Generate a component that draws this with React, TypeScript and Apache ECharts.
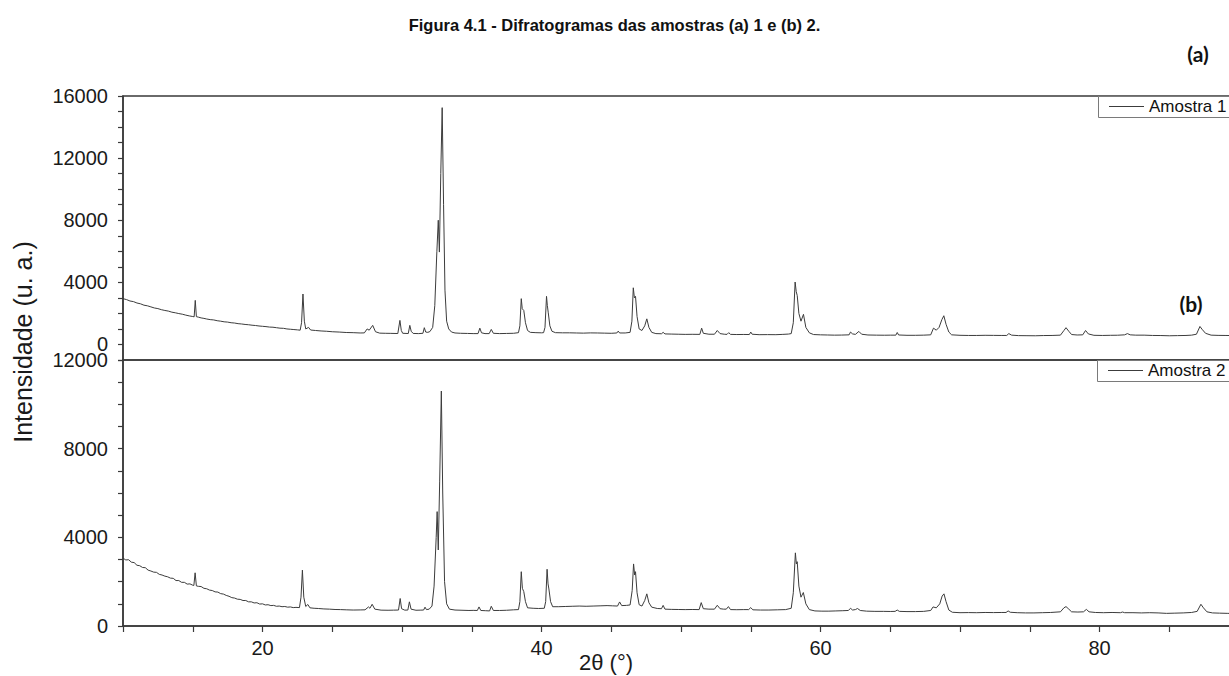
import React, { useEffect, useRef } from "react";
import * as echarts from "echarts";

const TITLE = "Figura 4.1 - Difratogramas das amostras (a) 1 e (b) 2.";
const SERIES_NAMES = ["Amostra 1", "Amostra 2"];
const X_LABELS = [20, 40, 60, 80];
const TOP_Y_LABELS = [0, 4000, 8000, 12000, 16000];
const BOTTOM_Y_LABELS = [0, 4000, 8000, 12000];

// Amostra 1: [2θ, intensidade]
const amostra1: number[][] = [
  [10.0, 2950], [10.25, 2890], [10.5, 2800], [10.75, 2760], [11.0, 2670], [11.25, 2620], [11.5, 2530],
  [11.75, 2490], [12.0, 2420], [12.25, 2350], [12.5, 2310], [12.75, 2240], [13.0, 2190], [13.25, 2150],
  [13.5, 2080], [13.75, 2040], [14.0, 1990], [14.25, 1950], [14.5, 1890], [14.75, 1840], [15.0, 1800],
  [15.1, 1780], [15.18, 2840], [15.26, 1790], [15.4, 1760], [15.6, 1710], [15.8, 1680], [16.0, 1640],
  [16.25, 1600], [16.5, 1580], [16.75, 1530], [17.0, 1500], [17.25, 1460], [17.5, 1440], [17.75, 1400],
  [18.0, 1380], [18.25, 1340], [18.5, 1320], [18.75, 1290], [19.0, 1270], [19.25, 1240], [19.5, 1220],
  [19.75, 1190], [20.0, 1170], [20.25, 1150], [20.5, 1120], [20.75, 1110], [21.0, 1080], [21.25, 1050],
  [21.5, 1040], [21.75, 1000], [22.0, 980], [22.25, 960], [22.5, 940], [22.7, 920],
  [22.8, 1400], [22.9, 3250], [23.0, 1500], [23.1, 1000], [23.3, 1100], [23.45, 930],
  [23.8, 900], [24.2, 870], [24.6, 850], [25.0, 820], [25.5, 800], [26.0, 770], [26.5, 760], [27.0, 740],
  [27.3, 745], [27.5, 1000], [27.65, 920], [27.9, 1230], [28.1, 820], [28.4, 730], [28.8, 720],
  [29.2, 715], [29.7, 705], [29.85, 1550], [29.95, 900], [30.05, 720], [30.45, 705], [30.56, 1230],
  [30.66, 850], [30.8, 710], [31.2, 700], [31.5, 720], [31.6, 1080], [31.7, 800], [31.85, 780],
  [32.0, 830], [32.2, 1100], [32.35, 2500], [32.5, 6000], [32.6, 8000], [32.68, 5950], [32.78, 11000],
  [32.88, 15250], [32.98, 9000], [33.08, 3500], [33.2, 1500], [33.35, 1000], [33.55, 800], [33.8, 740],
  [34.2, 720], [34.7, 710], [35.1, 700], [35.45, 700], [35.58, 1050], [35.7, 750], [35.95, 700],
  [36.25, 700], [36.4, 970], [36.55, 720], [37.0, 700], [37.5, 710], [38.0, 720], [38.35, 760],
  [38.45, 1200], [38.55, 2950], [38.62, 2300], [38.73, 2190], [38.85, 1400], [39.0, 900], [39.2, 780],
  [39.6, 760], [40.0, 750], [40.15, 760], [40.25, 1100], [40.36, 3100], [40.42, 2500], [40.48, 2080],
  [40.6, 1200], [40.75, 850], [41.0, 760], [41.5, 750], [42.0, 750], [42.5, 740], [43.0, 730],
  [43.5, 745], [44.0, 740], [44.5, 730], [45.0, 720], [45.4, 740], [45.5, 860], [45.6, 740],
  [46.0, 740], [46.35, 780], [46.48, 1500], [46.58, 3650], [46.66, 3000], [46.74, 3100], [46.85, 1800],
  [47.0, 1000], [47.2, 900], [47.4, 1200], [47.55, 1650], [47.7, 1100], [47.9, 780], [48.2, 700],
  [48.6, 690], [48.72, 780], [48.85, 680], [49.3, 670], [49.8, 660], [50.3, 650], [50.8, 655],
  [51.35, 650], [51.48, 1050], [51.6, 720], [52.0, 660], [52.4, 660], [52.6, 900], [52.8, 700],
  [53.1, 660], [53.3, 650], [53.42, 760], [53.55, 650], [54.0, 640], [54.5, 645], [54.9, 640],
  [55.0, 800], [55.1, 660], [55.6, 630], [56.2, 635], [56.8, 630], [57.3, 650], [57.7, 670],
  [57.9, 700], [58.05, 1400], [58.18, 4020], [58.26, 3400], [58.33, 3160], [58.45, 2000], [58.6, 1500],
  [58.78, 1940], [58.95, 1100], [59.2, 750], [59.5, 640], [60.0, 620], [60.5, 610], [61.0, 600],
  [61.5, 605], [62.05, 620], [62.15, 800], [62.3, 680], [62.5, 650], [62.75, 840], [62.95, 660],
  [63.4, 610], [64.0, 600], [64.6, 595], [65.0, 600], [65.4, 600], [65.5, 770], [65.6, 610],
  [66.2, 590], [66.8, 590], [67.4, 600], [67.9, 620], [68.1, 1050], [68.3, 920], [68.5, 1100],
  [68.7, 1600], [68.84, 1850], [69.0, 1300], [69.2, 800], [69.4, 620], [70.0, 590], [70.6, 580],
  [71.2, 580], [71.8, 590], [72.4, 585], [73.0, 580], [73.35, 580], [73.5, 700], [73.7, 600],
  [74.2, 570], [74.8, 565], [75.4, 560], [76.0, 575], [76.6, 580], [77.2, 600], [77.45, 900],
  [77.6, 1080], [77.8, 850], [78.0, 640], [78.4, 610], [78.8, 620], [79.0, 900], [79.2, 680],
  [79.6, 590], [80.2, 580], [80.8, 590], [81.3, 595], [81.8, 620], [82.0, 700], [82.2, 620],
  [82.6, 600], [83.2, 600], [83.8, 580], [84.4, 575], [85.0, 560], [85.6, 570], [86.2, 580],
  [86.6, 600], [86.95, 660], [87.2, 1160], [87.35, 980], [87.6, 720], [88.0, 600], [88.5, 585],
  [89.0, 580], [89.5, 575], [90.0, 570],
];

// Amostra 2: [2θ, intensidade]
const amostra2: number[][] = [
  [10.0, 3060], [10.2, 2980], [10.4, 2990], [10.6, 2880], [10.8, 2860], [11.0, 2740], [11.2, 2720],
  [11.4, 2640], [11.6, 2630], [11.8, 2520], [12.0, 2480], [12.2, 2430], [12.4, 2420], [12.6, 2330],
  [12.8, 2300], [13.0, 2250], [13.2, 2220], [13.4, 2160], [13.6, 2150], [13.8, 2050], [14.0, 2050],
  [14.2, 1970], [14.4, 1970], [14.6, 1890], [14.8, 1900], [15.0, 1840], [15.08, 1830], [15.17, 2400],
  [15.26, 1810], [15.4, 1790], [15.6, 1780], [15.8, 1700], [16.0, 1680], [16.2, 1620], [16.4, 1600],
  [16.6, 1540], [16.8, 1530], [17.0, 1460], [17.2, 1440], [17.4, 1380], [17.6, 1340], [17.8, 1280],
  [18.0, 1260], [18.2, 1210], [18.4, 1200], [18.6, 1150], [18.8, 1150], [19.0, 1090], [19.2, 1090],
  [19.4, 1040], [19.6, 1050], [19.8, 990], [20.0, 1000], [20.2, 950], [20.4, 960], [20.6, 920],
  [20.8, 930], [21.0, 890], [21.2, 900], [21.4, 870], [21.6, 880], [21.8, 850], [22.0, 860],
  [22.2, 830], [22.4, 840], [22.65, 830], [22.76, 1300], [22.86, 2520], [22.96, 1300], [23.1, 880],
  [23.25, 970], [23.4, 820], [23.7, 800], [24.0, 790], [24.4, 770], [24.8, 760], [25.2, 745],
  [25.6, 740], [26.0, 730], [26.5, 720], [27.0, 725], [27.35, 730], [27.6, 860], [27.7, 800],
  [27.86, 980], [28.05, 760], [28.5, 715], [29.0, 710], [29.4, 715], [29.75, 720], [29.87, 1240],
  [29.97, 780], [30.2, 715], [30.42, 720], [30.53, 1090], [30.65, 760], [31.0, 710], [31.3, 715],
  [31.55, 720], [31.65, 850], [31.75, 740], [31.95, 760], [32.15, 900], [32.3, 1800], [32.45, 4000],
  [32.52, 5160], [32.6, 3430], [32.7, 6500], [32.82, 10600], [32.92, 6000], [33.05, 2000], [33.2, 1000],
  [33.4, 760], [33.8, 720], [34.3, 710], [34.8, 700], [35.1, 705], [35.4, 700], [35.52, 860],
  [35.65, 700], [36.0, 690], [36.28, 680], [36.4, 890], [36.55, 700], [37.0, 700], [37.5, 710],
  [38.0, 730], [38.35, 740], [38.45, 1100], [38.55, 2450], [38.63, 1700], [38.73, 1550], [38.85, 1100],
  [39.0, 820], [39.4, 800], [39.8, 790], [40.2, 800], [40.3, 1100], [40.4, 2560], [40.47, 1900],
  [40.53, 1670], [40.65, 1100], [40.8, 870], [41.2, 870], [41.7, 880], [42.2, 890], [42.7, 900],
  [43.2, 890], [43.7, 900], [44.2, 910], [44.7, 920], [45.1, 910], [45.45, 900], [45.6, 1085],
  [45.75, 920], [46.1, 930], [46.35, 950], [46.5, 1600], [46.6, 2800], [46.68, 2300], [46.74, 2450],
  [46.85, 1500], [47.0, 960], [47.2, 900], [47.4, 1150], [47.55, 1450], [47.7, 1050], [47.9, 850],
  [48.3, 790], [48.6, 780], [48.72, 930], [48.85, 760], [49.3, 750], [49.8, 745], [50.3, 740],
  [50.8, 745], [51.3, 740], [51.45, 1055], [51.6, 780], [52.0, 760], [52.4, 760], [52.6, 935],
  [52.8, 780], [53.05, 760], [53.25, 760], [53.4, 875], [53.55, 740], [54.0, 735], [54.5, 740],
  [54.85, 740], [55.0, 830], [55.15, 730], [55.7, 720], [56.3, 720], [56.9, 730], [57.5, 740],
  [57.9, 800], [58.05, 1500], [58.2, 3300], [58.27, 2800], [58.33, 2900], [58.45, 1800], [58.6, 1300],
  [58.77, 1510], [58.95, 1000], [59.2, 740], [59.6, 680], [60.1, 670], [60.6, 670], [61.1, 680],
  [61.6, 690], [62.0, 700], [62.15, 800], [62.3, 720], [62.5, 740], [62.65, 790], [62.85, 700],
  [63.3, 670], [63.9, 660], [64.5, 660], [65.0, 655], [65.35, 660], [65.5, 720], [65.65, 660],
  [66.2, 650], [66.8, 650], [67.4, 660], [67.9, 700], [68.07, 860], [68.3, 820], [68.55, 1000],
  [68.72, 1350], [68.85, 1450], [69.0, 1100], [69.2, 720], [69.45, 620], [70.0, 600], [70.6, 605],
  [71.2, 600], [71.8, 610], [72.4, 605], [73.0, 610], [73.3, 610], [73.45, 680], [73.6, 620],
  [74.1, 600], [74.7, 590], [75.3, 590], [75.9, 600], [76.5, 610], [77.2, 640], [77.45, 820],
  [77.6, 875], [77.8, 760], [78.0, 640], [78.45, 630], [78.85, 640], [79.06, 750], [79.25, 640],
  [79.7, 610], [80.3, 600], [80.9, 610], [81.5, 600], [81.65, 630], [81.8, 600], [82.4, 600],
  [83.0, 590], [83.6, 600], [84.2, 590], [84.8, 570], [85.4, 580], [86.0, 590], [86.6, 610],
  [87.0, 660], [87.27, 980], [87.45, 820], [87.7, 640], [88.1, 590], [88.6, 580], [89.2, 570],
  [90.0, 560],
];

const AXIS_COLOR = "#3a3a3a";
const LINE_COLOR = "#3c3c3c";
const FONT = "Liberation Sans, Arial, sans-serif";

export default function App() {
  const ref = useRef<HTMLDivElement>(null);
  useEffect(() => {
    if (!ref.current) return;
    const chart = echarts.init(ref.current, null, { renderer: "svg" });
    const gridWidth = 1116;
    const yLabelStyle = { fontSize: 20, color: "#1a1a1a", fontFamily: FONT, margin: 15 };
    const legendBase = {
      orient: "vertical",
      padding: [2, 0, 2, 11],
      itemWidth: 35,
      itemHeight: 1,
      icon: "rect",
      borderWidth: 0,
      backgroundColor: "transparent",
      textStyle: { fontSize: 17, color: "#111", fontFamily: FONT },
      z: 10,
    };
    const legendBox = (x: number, y: number) => ({
      type: "rect",
      z: 5,
      shape: { x, y, width: 200, height: 21 },
      style: { fill: "#ffffff", stroke: "#7a7a7a", lineWidth: 1 },
    });
    chart.setOption({
      animation: false,
      backgroundColor: "#ffffff",
      title: {
        text: TITLE,
        left: "center",
        top: 11,
        textStyle: { fontSize: 16.5, fontWeight: "bold", color: "#111", fontFamily: FONT },
      },
      legend: [
        { ...legendBase, data: [SERIES_NAMES[0]], left: 1098, top: 96 },
        { ...legendBase, data: [SERIES_NAMES[1]], left: 1097, top: 360 },
      ],
      grid: [
        {
          left: 123, width: gridWidth, top: 96, height: 264, show: true,
          borderColor: AXIS_COLOR, borderWidth: 1.5, containLabel: false, outerBoundsMode: "none",
        },
        {
          left: 123, width: gridWidth, top: 360, height: 266, show: true,
          borderColor: AXIS_COLOR, borderWidth: 1.5, containLabel: false, outerBoundsMode: "none",
        },
      ],
      xAxis: [
        { type: "value", gridIndex: 0, min: 10, max: 90, show: false },
        {
          type: "value",
          gridIndex: 1,
          min: 10,
          max: 90,
          interval: 5,
          axisLine: { show: true, onZero: false, lineStyle: { color: AXIS_COLOR, width: 1.5 } },
          axisTick: { show: true, length: 6, lineStyle: { color: AXIS_COLOR, width: 1.2 } },
          axisLabel: {
            interval: 0,
            fontSize: 20,
            color: "#1a1a1a",
            fontFamily: FONT,
            margin: 12,
            formatter: (v: number) => (X_LABELS.includes(v) ? String(v) : ""),
          },
          splitLine: { show: false },
        },
      ],
      yAxis: [
        {
          type: "value",
          gridIndex: 0,
          min: -1000,
          max: 16000,
          interval: 1000,
          axisLine: { show: true, lineStyle: { color: AXIS_COLOR, width: 1.5 } },
          axisTick: { show: true, length: 5, lineStyle: { color: AXIS_COLOR, width: 1.2 } },
          axisLabel: {
            ...yLabelStyle,
            interval: 0,
            showMinLabel: true,
            showMaxLabel: true,
            formatter: (v: number) => (TOP_Y_LABELS.includes(v) ? String(v) : ""),
          },
          splitLine: { show: false },
        },
        {
          type: "value",
          gridIndex: 0,
          min: -1000,
          max: 16000,
          axisLine: { show: false },
          axisTick: { show: true, length: 9, customValues: TOP_Y_LABELS, lineStyle: { color: AXIS_COLOR, width: 1.2 } },
          axisLabel: { show: false },
          splitLine: { show: false },
        },
        {
          type: "value",
          gridIndex: 1,
          min: 0,
          max: 12000,
          interval: 1000,
          axisLine: { show: true, lineStyle: { color: AXIS_COLOR, width: 1.5 } },
          axisTick: { show: true, length: 5, lineStyle: { color: AXIS_COLOR, width: 1.2 } },
          axisLabel: {
            ...yLabelStyle,
            interval: 0,
            showMinLabel: true,
            showMaxLabel: true,
            formatter: (v: number) => (BOTTOM_Y_LABELS.includes(v) ? String(v) : ""),
          },
          splitLine: { show: false },
        },
        {
          type: "value",
          gridIndex: 1,
          min: 0,
          max: 12000,
          axisLine: { show: false },
          axisTick: { show: true, length: 9, customValues: BOTTOM_Y_LABELS, lineStyle: { color: AXIS_COLOR, width: 1.2 } },
          axisLabel: { show: false },
          splitLine: { show: false },
        },
      ],
      series: [
        {
          name: SERIES_NAMES[0],
          type: "line",
          xAxisIndex: 0,
          yAxisIndex: 0,
          data: amostra1,
          symbol: "none",
          lineStyle: { color: LINE_COLOR, width: 1 },
          itemStyle: { color: LINE_COLOR },
        },
        {
          name: SERIES_NAMES[1],
          type: "line",
          xAxisIndex: 1,
          yAxisIndex: 2,
          data: amostra2,
          symbol: "none",
          lineStyle: { color: LINE_COLOR, width: 1 },
          itemStyle: { color: LINE_COLOR },
        },
      ],
      graphic: [
        legendBox(1098.5, 96.5),
        legendBox(1097.5, 360.5),
        {
          type: "text",
          x: 23,
          y: 342,
          rotation: Math.PI / 2,
          style: {
            text: "Intensidade (u. a.)",
            font: `25px ${FONT}`,
            fill: "#1a1a1a",
            align: "center",
            verticalAlign: "middle",
          },
        },
        {
          type: "text",
          x: 606,
          y: 662,
          style: {
            text: "2θ (°)",
            font: `22px ${FONT}`,
            fill: "#1a1a1a",
            align: "center",
            verticalAlign: "middle",
          },
        },
        {
          type: "text",
          x: 1198,
          y: 53,
          style: { text: "(a)", font: `bold 21px Lato, sans-serif`, fill: "#111", align: "center", verticalAlign: "middle" },
        },
        {
          type: "text",
          x: 1191,
          y: 303,
          style: { text: "(b)", font: `bold 21px Lato, sans-serif`, fill: "#111", align: "center", verticalAlign: "middle" },
        },
      ],
    });
    return () => chart.dispose();
  }, []);
  return <div ref={ref} style={{ position: "absolute", left: 0, top: 0, width: 1229, height: 676, overflow: "hidden" }} />;
}
